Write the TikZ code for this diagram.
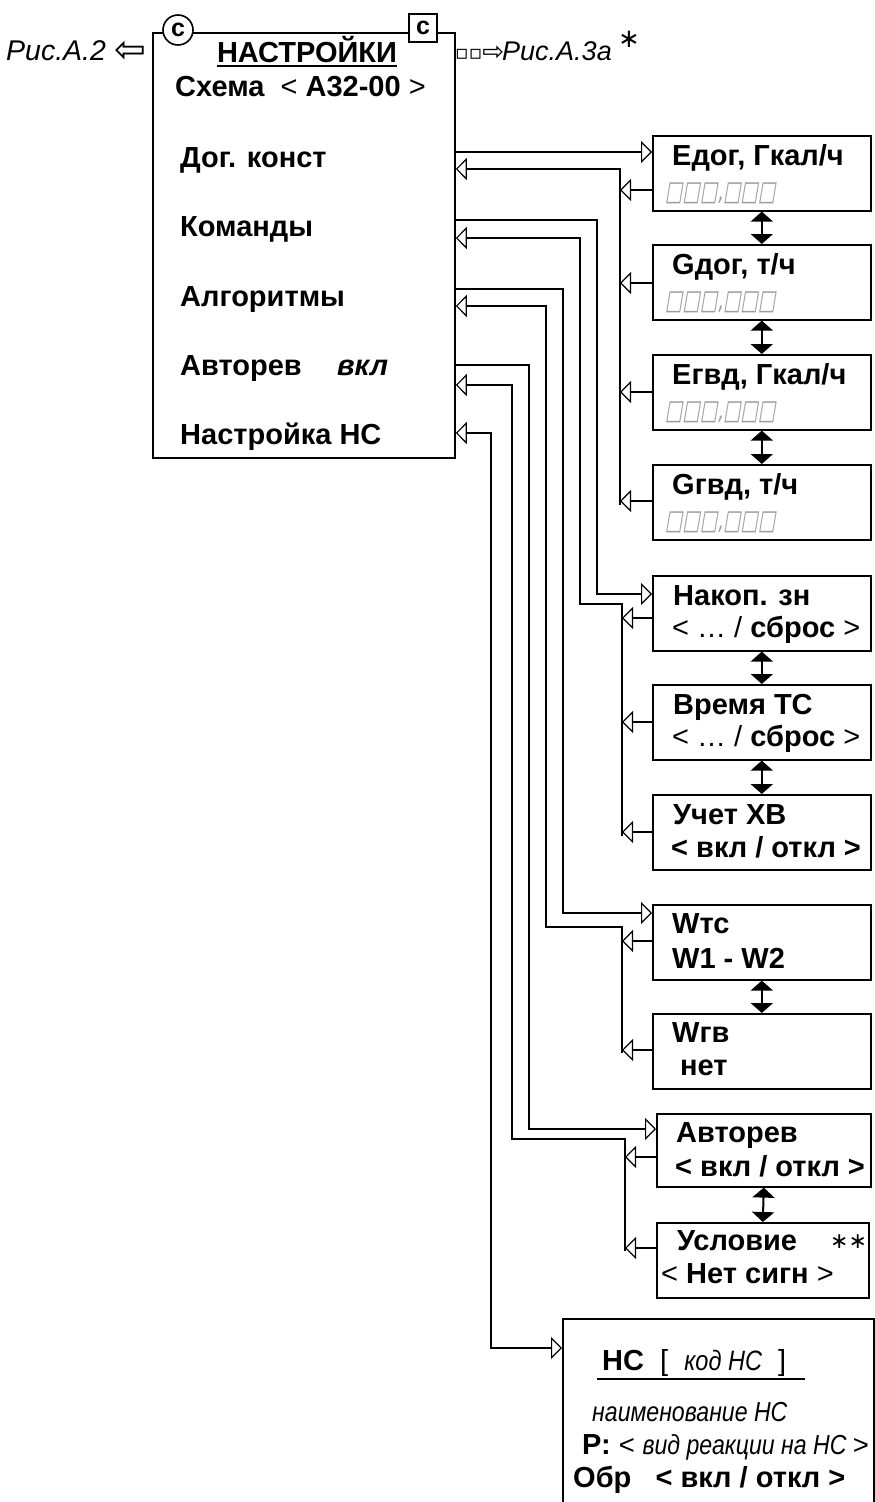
\documentclass[tikz,border=0pt]{standalone}
\usepackage{fontspec}
\setmainfont{Liberation Sans}
\newfontfamily\symf{DejaVu Sans}
\newfontfamily\phf{DejaVu Sans}[FakeSlant=0.25]
\newfontfamily\nit{Liberation Sans Italic}[FakeStretch=0.84]
\usetikzlibrary{arrows.meta}
\newcommand\digitph{\scalebox{0.97}[1.45]{□□□,□□□}}
\tikzset{
  x=1pt, y=-1pt,
  rbox/.style={draw, line width=1.6pt, minimum width=218pt, minimum height=75pt, inner sep=0pt, anchor=north west},
  tb/.style={font=\fontsize{29}{32}\selectfont\bfseries, inner sep=0pt, anchor=base west},
  ti/.style={font=\fontsize{28.5}{30}\selectfont\itshape, inner sep=0pt, anchor=base west},
  ph/.style={font=\fontsize{19}{20}\phf, text=black!38, inner sep=0pt, anchor=base west},
  ln/.style={line width=1.2pt},
  bus/.style={line width=2.4pt},
  opn/.style={-{Triangle[open, length=11pt, width=22pt]}},
  dbl/.style={line width=2pt, {Triangle[length=10pt, width=22pt]}-{Triangle[length=10pt, width=22pt]}},
}
\begin{document}
\begin{tikzpicture}
\useasboundingbox (0,0) rectangle (875,1502);
% main box
\node[draw, line width=1.8pt, minimum width=302pt, minimum height=425pt, inner sep=0pt, anchor=north west] (M) at (152,32) {};
\node[draw, circle, line width=1.6pt, fill=white, minimum size=30pt, inner sep=0pt, font=\fontsize{25}{25}\selectfont\bfseries] (cc) at (178,30) {с};
\node[draw, rectangle, line width=1.6pt, fill=white, minimum size=28pt, inner sep=0pt, font=\fontsize{25}{25}\selectfont\bfseries] (sc) at (423,28) {с};
\node[tb, anchor=base] (title) at (307,62) {НАСТРОЙКИ};
\draw[line width=1.8pt] ([yshift=-4pt]title.base west) -- ([yshift=-4pt]title.base east);
\node[tb] (sch) at (175,96) {Схема\ \ {\mdseries <} А32-00 {\mdseries >}};
% side references
\node[ti] (ra2) at (6,60) {Рис.А.2};
\node[font=\fontsize{38}{38}\symf, inner sep=0pt, anchor=base west] (la) at (114,62) {⇦};
\node[font=\fontsize{26}{26}\symf, inner sep=0pt, anchor=base west] (ra) at (455,60) {{\fontsize{20}{20}\selectfont\raisebox{1pt}{▫▫}}⇨};
\node[ti, font=\fontsize{27}{30}\selectfont\itshape] (ra3) at (502,60) {Рис.А.3а};
\node[font=\fontsize{26}{26}\symf, inner sep=0pt, anchor=base west] (ast) at (618,47) {∗};
% menu items
\node[tb] (m1) at (180,167) {Дог. конст};
\node[tb] (m2) at (180,236) {Команды};
\node[tb] (m3) at (180,306) {Алгоритмы};
\node[tb] (m4) at (180,375) {Авторев};
\node[tb, font=\fontsize{29}{32}\selectfont\bfseries\itshape] (m4v) at (337,375) {вкл};
\node[tb] (m5) at (180,444) {Настройка НС};
% right boxes
\node[rbox] (bE) at (652,135) {};
\node[tb] at (672,165) {Едог, Гкал/ч};
\node[ph] (pE) at (665,200) {\digitph};
\node[rbox] (bG) at (652,244) {};
\node[tb] at (672,274) {Gдог, т/ч};
\node[ph] (pG) at (665,309) {\digitph};
\node[rbox] (bEg) at (652,354) {};
\node[tb] at (672,384) {Егвд, Гкал/ч};
\node[ph] (pEg) at (665,419) {\digitph};
\node[rbox] (bGg) at (652,464) {};
\node[tb] at (672,494) {Gгвд, т/ч};
\node[ph] (pGg) at (665,529) {\digitph};
\node[rbox] (bN) at (652,575) {};
\node[tb] at (673,605) {Накоп. зн};
\node[tb] at (672,637) {{\mdseries < … /} сброс {\mdseries >}};
\node[rbox] (bT) at (652,684) {};
\node[tb] at (673,714) {Время ТС};
\node[tb] at (672,746) {{\mdseries < … /} сброс {\mdseries >}};
\node[rbox] (bU) at (652,794) {};
\node[tb] at (673,824) {Учет ХВ};
\node[tb] at (671,857) {< вкл / откл >};
\node[rbox] (bW) at (652,904) {};
\node[tb] at (672,933) {Wтс};
\node[tb] at (672,968) {W1 - W2};
\node[rbox] (bWg) at (652,1013) {};
\node[tb] at (672,1042) {Wгв};
\node[tb] at (680,1075) {нет};
\node[rbox, minimum width=214pt, minimum height=73pt] (bA) at (656,1113) {};
\node[tb] at (676,1142) {Авторев};
\node[tb] at (675,1176) {< вкл / откл >};
\node[rbox, minimum width=212pt] (bC) at (656,1222) {};
\node[tb] at (677,1250) {Условие};
\node[font=\fontsize{22}{22}\symf, inner sep=0pt, anchor=base west] at (830,1248) {∗∗};
\node[tb] at (661,1283) {{\mdseries <} Нет сигн {\mdseries >}};
% NS box
\node[draw, line width=1.6pt, minimum width=311pt, minimum height=200pt, inner sep=0pt, anchor=north west] (bH) at (562,1318) {};
\node[tb] (h1) at (602,1370) {НС\ \ {\mdseries [}\ \ {\mdseries\fontsize{28}{30}\nit код НС}\ \ {\mdseries ]}};
\draw[line width=1.5pt] (597,1379) -- (805,1379);
\node[tb, font=\fontsize{27.5}{30}\nit] (h2) at (592,1421) {наименование НС};
\node[tb] (h3) at (582,1454) {Р: {\mdseries\fontsize{27.5}{30}\selectfont < \nit вид реакции на НС \normalfont\mdseries >}};
\node[tb] (h4) at (573,1487) {Обр\ \ \ < вкл / откл >};
% double arrows
\draw[dbl] (bE.south) -- (bG.north);
\draw[dbl] (bG.south) -- (bEg.north);
\draw[dbl] (bEg.south) -- (bGg.north);
\draw[dbl] (bN.south) -- (bT.north);
\draw[dbl] (bT.south) -- (bU.north);
\draw[dbl] (bW.south) -- (bWg.north);
\draw[dbl] (bA.south) -- (bC.north);
% Dog konst
\draw[ln, opn] (M.east |- 0,152) -- (bE.west |- 0,152);
\draw[bus] (620,168) -- (620,505);
\draw[ln, opn] (620,169) -- (M.east |- 0,169);
\draw[ln, opn] (bE.west |- 0,190) -- (620,190);
\draw[ln, opn] (bG.west |- 0,283) -- (620,283);
\draw[ln, opn] (bEg.west |- 0,392) -- (620,392);
\draw[ln, opn] (bGg.west |- 0,501) -- (620,501);
% Komandy
\draw[ln, opn] (M.east |- 0,220) -- (597,220) -- (597,594) -- (bN.west |- 0,594);
\draw[bus] (622,603) -- (622,836);
\draw[ln, opn] (622,604) -- (580,604) -- (580,238) -- (M.east |- 0,238);
\draw[ln, opn] (bN.west |- 0,618) -- (622,618);
\draw[ln, opn] (bT.west |- 0,722) -- (622,722);
\draw[ln, opn] (bU.west |- 0,832) -- (622,832);
% Algoritmy
\draw[ln, opn] (M.east |- 0,289) -- (563,289) -- (563,913) -- (bW.west |- 0,913);
\draw[bus] (622,926) -- (622,1053);
\draw[ln, opn] (622,927) -- (546,927) -- (546,306) -- (M.east |- 0,306);
\draw[ln, opn] (bW.west |- 0,941) -- (622,941);
\draw[ln, opn] (bWg.west |- 0,1050) -- (622,1050);
% Avtorev
\draw[ln, opn] (M.east |- 0,365) -- (529,365) -- (529,1129) -- (bA.west |- 0,1129);
\draw[bus] (625,1138) -- (625,1251);
\draw[ln, opn] (625,1139) -- (512,1139) -- (512,385) -- (M.east |- 0,385);
\draw[ln, opn] (bA.west |- 0,1157) -- (625,1157);
\draw[ln, opn] (bC.west |- 0,1248) -- (625,1248);
% Nastroyka NS
\draw[ln, {Triangle[open, length=11pt, width=22pt]}-{Triangle[open, length=11pt, width=22pt]}] (M.east |- 0,433) -- (491,433) -- (491,1348) -- (bH.west |- 0,1348);
\end{tikzpicture}
\end{document}
